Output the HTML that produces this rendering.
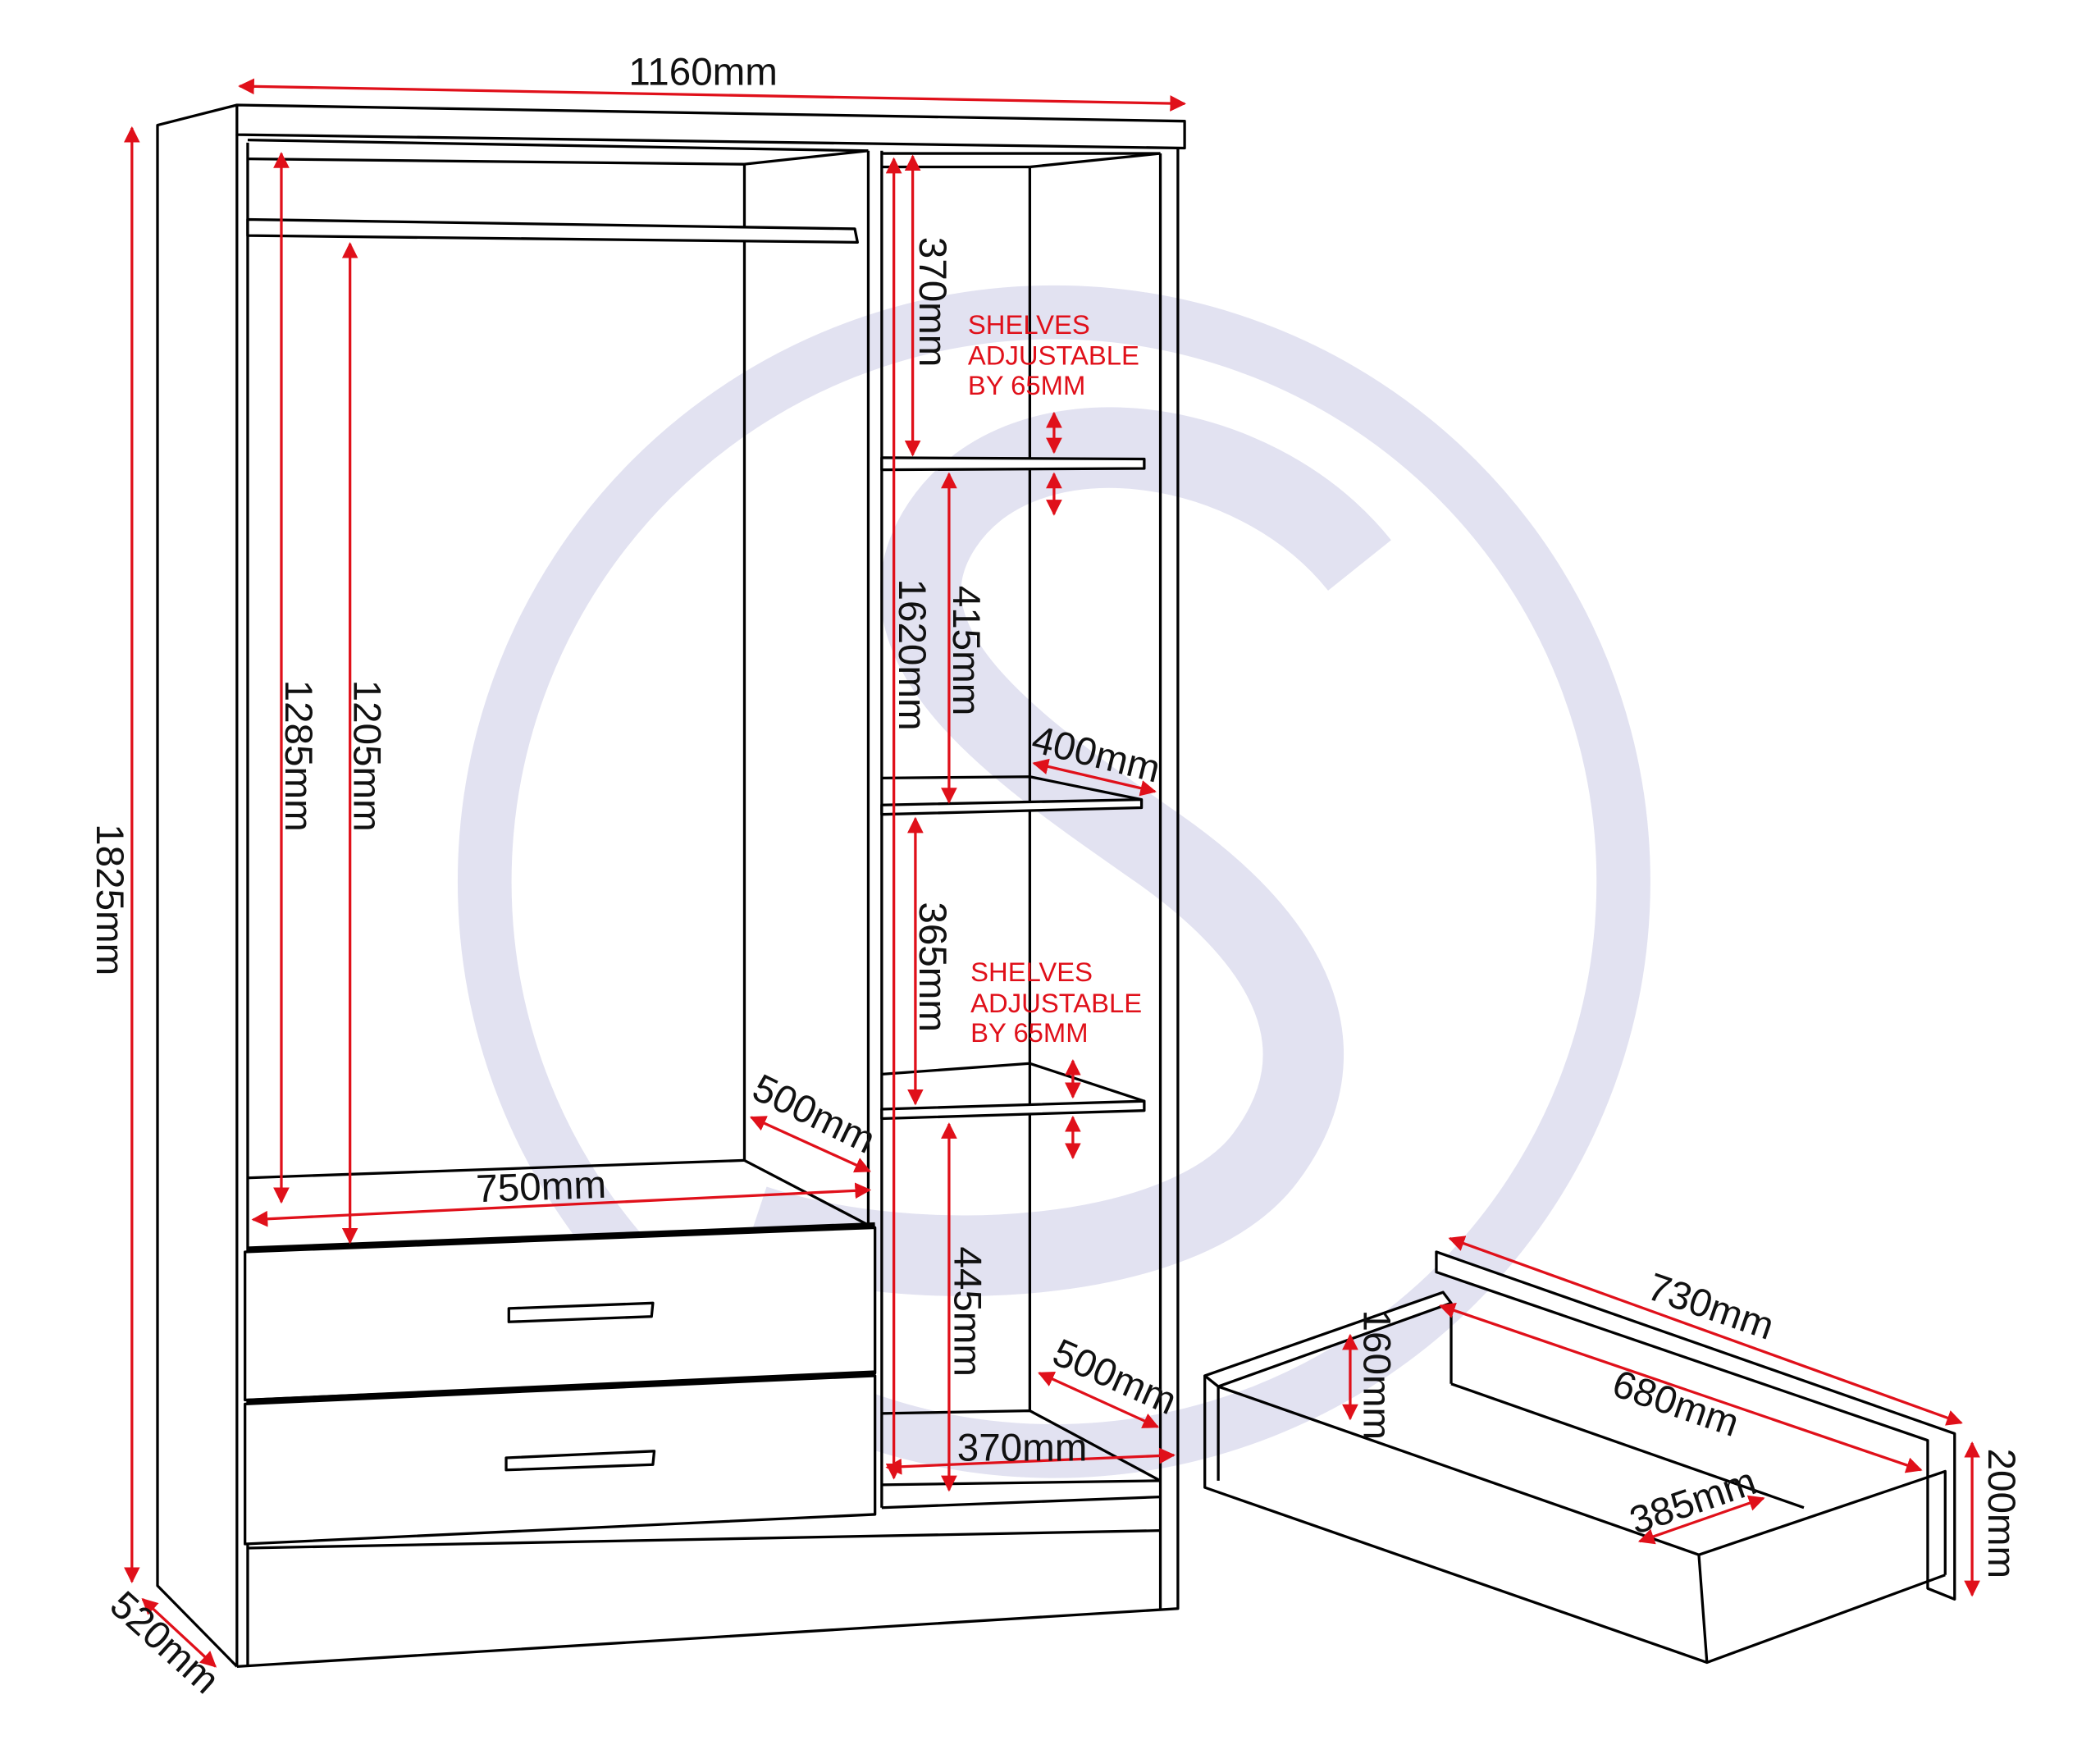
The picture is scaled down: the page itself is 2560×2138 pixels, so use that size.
<!DOCTYPE html>
<html><head><meta charset="utf-8"><style>
html,body{margin:0;padding:0;background:#fff;width:2560px;height:2138px;overflow:hidden}
svg{display:block}
text{font-family:"Liberation Sans",Arial,sans-serif}
</style></head><body>
<svg width="2560" height="2138" viewBox="0 0 1560 1303" preserveAspectRatio="none" xmlns="http://www.w3.org/2000/svg">
<defs>
<marker id="a" viewBox="0 0 10 10" refX="9" refY="5" markerWidth="6" markerHeight="6" orient="auto-start-reverse" markerUnits="strokeWidth">
<path d="M0,0 L10,5 L0,10 z" fill="#e0101a"/></marker>
</defs>
<rect width="1560" height="1303" fill="#fff"/>
<g fill="none" stroke="#e2e2f1">
<circle cx="783" cy="655" r="423" stroke-width="40"/>
<path d="M1010,420 C930,320 760,300 700,390 C640,480 760,560 860,630 C960,700 1000,780 940,860 C880,940 680,950 560,910" stroke-width="60"/>
</g>
<g fill="none" stroke="#000" stroke-width="2" stroke-linejoin="round">
<polygon points="176,78 880,90 880,110 176,100" fill="#fff"/>
<polyline points="176,78 117,93 117,1178 176,1238"/>
<line x1="176" y1="100" x2="176" y2="1238"/>
<line x1="184" y1="106" x2="184" y2="1238"/>
<line x1="184" y1="104" x2="645" y2="112"/>
<polyline points="176,1238 875,1195 875,110"/>
<polyline points="862,1195 862,114"/>
<line x1="184" y1="1150" x2="862" y2="1137"/>
<polyline points="645,112 645,1120"/>
<polyline points="655,112 655,1120"/>
<line x1="655" y1="1120" x2="862" y2="1112"/>
<line x1="184" y1="118" x2="553" y2="122"/>
<line x1="553" y1="122" x2="645" y2="112"/>
<line x1="553" y1="122" x2="553" y2="862"/>
<line x1="184" y1="875" x2="553" y2="862"/>
<line x1="553" y1="862" x2="645" y2="910"/>
<polygon points="184,163 635,170 637,180 184,175" fill="#fff"/>
<polygon points="182,930 650,912 650,1020 182,1040" fill="#fff"/>
<line x1="184" y1="928" x2="650" y2="910" stroke-width="4"/>
<polygon points="182,1043 650,1022 650,1125 182,1147" fill="#fff"/>
<line x1="184" y1="1041" x2="650" y2="1020" stroke-width="4"/>
<path d="M378,972 L485,968 L484,978 L378,982 Z" fill="#fff"/>
<path d="M376,1083 L486,1078 L485,1088 L376,1092 Z" fill="#fff"/>
<line x1="655" y1="114" x2="862" y2="114"/>
<line x1="655" y1="124" x2="765" y2="124"/>
<line x1="765" y1="124" x2="862" y2="114"/>
<line x1="765" y1="124" x2="765" y2="1048"/>
<polygon points="655,340 850,341 850,348 655,349" fill="#fff"/>
<polyline points="655,578 765,577 848,594"/>
<polygon points="655,598 848,594 848,600 655,605" fill="#fff"/>
<polyline points="655,798 765,790 850,818"/>
<polygon points="655,824 850,818 850,825 655,831" fill="#fff"/>
<polyline points="655,1050 765,1048 862,1100"/>
<line x1="655" y1="1103" x2="862" y2="1100"/>
<polygon points="1067,930 1452,1065 1452,1188 1432,1180 1432,1070 1067,945" fill="#fff"/>
<polygon points="895,1022 1072,960 1078,968 905,1030" fill="#fff"/>
<line x1="1078" y1="968" x2="1078" y2="1028"/>
<line x1="1078" y1="1028" x2="1340" y2="1120"/>
<polyline points="895,1022 895,1105 1268,1235 1445,1170"/>
<line x1="905" y1="1030" x2="905" y2="1100"/>
<polyline points="905,1030 1262,1155 1445,1093 1445,1170"/>
<line x1="1262" y1="1155" x2="1268" y2="1235"/>
</g>
<g stroke="#e0101a" stroke-width="2" fill="none" marker-start="url(#a)" marker-end="url(#a)">
<line x1="178" y1="64" x2="880" y2="77"/>
<line x1="98" y1="95" x2="98" y2="1175"/>
<line x1="106" y1="1188" x2="160" y2="1238"/>
<line x1="209" y1="114" x2="209" y2="893"/>
<line x1="260" y1="181" x2="260" y2="923"/>
<line x1="188" y1="906" x2="646" y2="884"/>
<line x1="558" y1="830" x2="646" y2="870"/>
<line x1="678" y1="116" x2="678" y2="338"/>
<line x1="664" y1="118" x2="664" y2="1098"/>
<line x1="705" y1="352" x2="705" y2="596"/>
<line x1="768" y1="567" x2="858" y2="588"/>
<line x1="680" y1="608" x2="680" y2="820"/>
<line x1="705" y1="835" x2="705" y2="1107"/>
<line x1="772" y1="1020" x2="860" y2="1060"/>
<line x1="659" y1="1090" x2="872" y2="1081"/>
<line x1="783" y1="307" x2="783" y2="336"/>
<line x1="783" y1="352" x2="783" y2="382"/>
<line x1="797" y1="788" x2="797" y2="815"/>
<line x1="797" y1="830" x2="797" y2="860"/>
<line x1="1077" y1="920" x2="1457" y2="1057"/>
<line x1="1070" y1="970" x2="1427" y2="1092"/>
<line x1="1003" y1="992" x2="1003" y2="1054"/>
<line x1="1465" y1="1072" x2="1465" y2="1185"/>
<line x1="1218" y1="1145" x2="1310" y2="1113"/>
</g>
<g font-size="29" fill="#111">
<text x="467" y="63">1160mm</text>
<text x="354" y="893" transform="rotate(-2 354 893)">750mm</text>
<text transform="translate(72,612) rotate(90)">1825mm</text>
<text transform="translate(212,505) rotate(90)">1285mm</text>
<text transform="translate(263,505) rotate(90)">1205mm</text>
<text transform="translate(683,176) rotate(90)">370mm</text>
<text transform="translate(668,430) rotate(90)">1620mm</text>
<text transform="translate(708,435) rotate(90)">415mm</text>
<text transform="translate(683,670) rotate(90)">365mm</text>
<text transform="translate(709,926) rotate(90)">445mm</text>
<text transform="translate(765,558) rotate(14)">400mm</text>
<text transform="translate(557,815) rotate(26)">500mm</text>
<text transform="translate(780,1012) rotate(24)">500mm</text>
<text x="711" y="1085">370mm</text>
<text transform="translate(80,1195) rotate(42)">520mm</text>
<text transform="translate(1222,964) rotate(19)">730mm</text>
<text transform="translate(1196,1036) rotate(19)">680mm</text>
<text transform="translate(1215,1140) rotate(-19)">385mm</text>
<text transform="translate(1013,973) rotate(90)">160mm</text>
<text transform="translate(1477,1076) rotate(90)">200mm</text>
</g>
<g font-size="20" fill="#e0101a">
<text x="719" y="248">SHELVES</text>
<text x="719" y="271">ADJUSTABLE</text>
<text x="719" y="293">BY 65MM</text>
<text x="721" y="729">SHELVES</text>
<text x="721" y="752">ADJUSTABLE</text>
<text x="721" y="774">BY 65MM</text>
</g>
</svg>
</body></html>
